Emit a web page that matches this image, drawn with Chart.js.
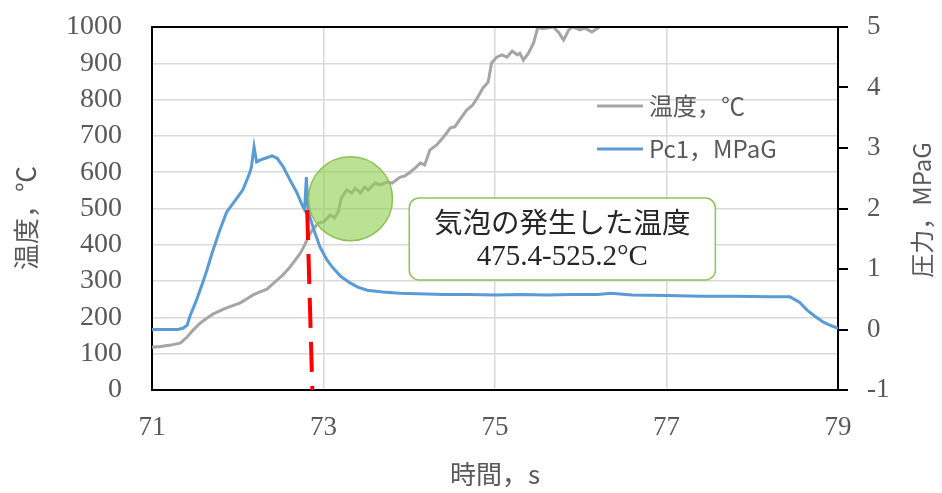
<!DOCTYPE html>
<html>
<head>
<meta charset="utf-8">
<script src="https://cdn.jsdelivr.net/npm/chart.js@4"></script>
<style>
  html, body { margin: 0; padding: 0; background: #fff; }
  #wrap { width: 942px; height: 493px; }
</style>
</head>
<body>
<div id="wrap"><canvas id="myChart" width="942" height="493"></canvas></div>
<script>
// temperature (left axis, °C)
const tempTime = [71.00, 71.10, 71.20, 71.33, 71.41, 71.48, 71.56, 71.64, 71.71, 71.79, 71.87, 71.95, 72.03, 72.10, 72.18, 72.26, 72.34, 72.40, 72.46, 72.53, 72.61, 72.67, 72.73, 72.78, 72.83, 72.87, 72.94, 73.00, 73.08, 73.13, 73.17, 73.21, 73.27, 73.33, 73.37, 73.43, 73.48, 73.52, 73.60, 73.66, 73.74, 73.80, 73.89, 73.95, 74.01, 74.07, 74.13, 74.18, 74.24, 74.32, 74.40, 74.48, 74.53, 74.61, 74.67, 74.74, 74.80, 74.86, 74.92, 74.96, 75.02, 75.08, 75.14, 75.20, 75.26, 75.29, 75.33, 75.39, 75.45, 75.50, 75.55, 75.60, 75.68, 75.74, 75.80, 75.86, 75.90, 75.95, 75.99, 76.05, 76.13, 76.20, 76.30];
const tempVals = [118, 120, 123, 129, 146, 165, 184, 198, 209, 218, 226, 233, 240, 250, 262, 270, 278, 290, 303, 318, 339, 358, 377, 399, 425, 441, 460, 463, 482, 474, 490, 529, 551, 543, 556, 543, 559, 551, 570, 565, 573, 570, 586, 590, 600, 612, 625, 620, 661, 675, 697, 722, 725, 752, 771, 785, 807, 832, 848, 901, 917, 923, 917, 934, 923, 928, 909, 928, 956, 1000, 995, 997, 1000, 986, 964, 992, 1000, 996, 992, 997, 986, 997, 1015];

// pressure Pc1 (right axis, MPaG)
const pressTime = [71.00, 71.15, 71.30, 71.36, 71.41, 71.44, 71.52, 71.59, 71.64, 71.70, 71.79, 71.87, 71.99, 72.06, 72.14, 72.16, 72.19, 72.22, 72.26, 72.32, 72.40, 72.46, 72.53, 72.61, 72.69, 72.75, 72.78, 72.80, 72.82, 72.84, 72.90, 72.96, 73.04, 73.11, 73.20, 73.31, 73.40, 73.51, 73.69, 73.89, 74.10, 74.40, 74.70, 75.00, 75.30, 75.60, 75.90, 76.20, 76.35, 76.60, 77.00, 77.40, 77.80, 78.20, 78.44, 78.55, 78.64, 78.73, 78.83, 78.91, 79.00];
const pressVals = [0.00, 0.00, 0.00, 0.02, 0.07, 0.21, 0.49, 0.77, 0.98, 1.26, 1.64, 1.94, 2.17, 2.31, 2.59, 2.69, 3.02, 2.77, 2.80, 2.83, 2.87, 2.83, 2.69, 2.47, 2.26, 2.06, 1.98, 2.52, 2.02, 1.86, 1.60, 1.36, 1.15, 1.02, 0.88, 0.77, 0.70, 0.65, 0.62, 0.60, 0.59, 0.58, 0.58, 0.57, 0.58, 0.57, 0.58, 0.58, 0.60, 0.57, 0.56, 0.55, 0.55, 0.54, 0.54, 0.45, 0.32, 0.22, 0.12, 0.07, 0.02];

// red dashed marker
const markTime = [72.81, 72.87];
const markTemp = [496, 0];

// highlighted bubble region
const bubbleTime = [73.315];
const bubbleTemp = [527];

const xTicks = [71, 73, 75, 77, 79];
const legendLabels = ['温度，℃', 'Pc1，MPaG'];
const noteLines = ['気泡の発生した温度', '475.4-525.2°C'];

const serif = "'Liberation Serif', 'Times New Roman', serif";
const cjk = "'Noto Sans CJK JP', 'Noto Sans', sans-serif";
const grey = '#595959';
const tempColor = '#a5a5a5';
const pressColor = '#5b9bd5';

const toXY = (xs, ys) => xs.map((x, i) => ({ x: x, y: ys[i] }));
const noPad = (s) => { s.paddingTop = 0; s.paddingBottom = 0; s.paddingLeft = 0; s.paddingRight = 0; };

const extras = {
  id: 'extras',
  afterDraw(chart) {
    const { ctx, chartArea: a, scales } = chart;
    const sx = scales.x, sy = scales.y;

    // top border
    ctx.save();
    ctx.strokeStyle = '#000';
    ctx.lineWidth = 2;
    ctx.beginPath();
    ctx.moveTo(a.left - 1, a.top);
    ctx.lineTo(a.right + 1, a.top);
    ctx.stroke();

    // note box
    const bx1 = sx.getPixelForValue(74.0), bx2 = sx.getPixelForValue(77.57);
    const by1 = sy.getPixelForValue(529), by2 = sy.getPixelForValue(303);
    ctx.beginPath();
    ctx.roundRect(bx1, by1, bx2 - bx1, by2 - by1, 10);
    ctx.fillStyle = '#fff';
    ctx.fill();
    ctx.strokeStyle = '#92c25a';
    ctx.lineWidth = 1.5;
    ctx.stroke();
    ctx.fillStyle = '#262626';
    ctx.textAlign = 'center';
    ctx.textBaseline = 'middle';
    const cx = (bx1 + bx2) / 2;
    ctx.font = 'normal 28.5px ' + cjk;
    ctx.fillText(noteLines[0], cx, by1 + 24);
    ctx.font = 'normal 29px ' + serif;
    ctx.fillText(noteLines[1], cx, by1 + 59);

    // legend
    const lx = 597, ly = [106, 149];
    const cols = [tempColor, pressColor];
    ctx.textAlign = 'left';
    ctx.font = '24px ' + cjk;
    legendLabels.forEach((t, i) => {
      ctx.strokeStyle = cols[i];
      ctx.lineWidth = 3;
      ctx.beginPath();
      ctx.moveTo(lx, ly[i]);
      ctx.lineTo(lx + 46, ly[i]);
      ctx.stroke();
      ctx.fillStyle = grey;
      ctx.fillText(t, lx + 52, ly[i]);
    });

    // axis titles
    ctx.fillStyle = grey;
    ctx.font = '26px ' + cjk;
    ctx.textAlign = 'center';
    ctx.fillText('時間，s', 495, 474);

    ctx.save();
    ctx.translate(26, 218);
    ctx.rotate(-Math.PI / 2);
    ctx.fillText('温度，℃', 0, 0);
    ctx.restore();

    ctx.save();
    ctx.font = '24px ' + cjk;
    ctx.translate(922, 210);
    ctx.rotate(-Math.PI / 2);
    ctx.fillText('圧力，MPaG', 0, 0);
    ctx.restore();

    ctx.restore();
  }
};

const data = {
  datasets: [
    {
      type: 'bubble',
      label: 'bubble',
      data: toXY(bubbleTime, bubbleTemp),
      yAxisID: 'y',
      radius: 42,
      backgroundColor: 'rgba(146, 208, 80, 0.62)',
      borderColor: '#8cc152',
      borderWidth: 1.5
    },
    {
      label: 'mark',
      data: toXY(markTime, markTemp),
      yAxisID: 'y',
      borderColor: '#ff0000',
      borderWidth: 4,
      borderDash: [30, 14],
      pointRadius: 0
    },
    {
      label: legendLabels[1],
      data: toXY(pressTime, pressVals),
      yAxisID: 'y2',
      borderColor: pressColor,
      borderWidth: 3,
      pointRadius: 0,
      tension: 0
    },
    {
      label: legendLabels[0],
      data: toXY(tempTime, tempVals),
      yAxisID: 'y',
      borderColor: tempColor,
      borderWidth: 3,
      pointRadius: 0,
      tension: 0
    }
  ]
};

const config = {
  type: 'line',
  data: data,
  options: {
    responsive: false,
    animation: false,
    devicePixelRatio: 1,
    layout: { autoPadding: false, padding: { top: 27, left: 0, right: 0, bottom: 0 } },
    plugins: { legend: { display: false }, tooltip: { enabled: false } },
    scales: {
      x: {
        type: 'linear',
        min: 71,
        max: 79,
        afterBuildTicks: (s) => { s.ticks = xTicks.map(v => ({ value: v })); },
        ticks: { font: { family: serif, size: 27 }, color: grey, padding: 22, maxRotation: 0, autoSkip: false, callback: (v) => String(v) },
        grid: { color: '#d9d9d9', lineWidth: 1.5, drawTicks: false },
        border: { color: '#000', width: 2 },
        afterFit: (s) => { s.height = 103; noPad(s); }
      },
      y: {
        position: 'left',
        min: 0,
        max: 1000,
        ticks: { stepSize: 100, font: { family: serif, size: 28 }, color: grey, padding: 30, autoSkip: false, callback: (v) => String(v) },
        grid: { color: '#d9d9d9', lineWidth: 1.5, drawTicks: false },
        border: { color: '#000', width: 2 },
        afterFit: (s) => { s.width = 152; noPad(s); }
      },
      y2: {
        position: 'right',
        min: -1,
        max: 5,
        ticks: { stepSize: 1, font: { family: serif, size: 27 }, color: grey, padding: 19, autoSkip: false, callback: (v) => String(v) },
        grid: { drawOnChartArea: false, drawTicks: true, tickLength: 10, color: '#000', lineWidth: 2 },
        border: { color: '#000', width: 2 },
        afterFit: (s) => { s.width = 104; noPad(s); }
      }
    }
  },
  plugins: [extras]
};

let myChart = new Chart(document.getElementById('myChart'), config);
</script>
</body>
</html>
